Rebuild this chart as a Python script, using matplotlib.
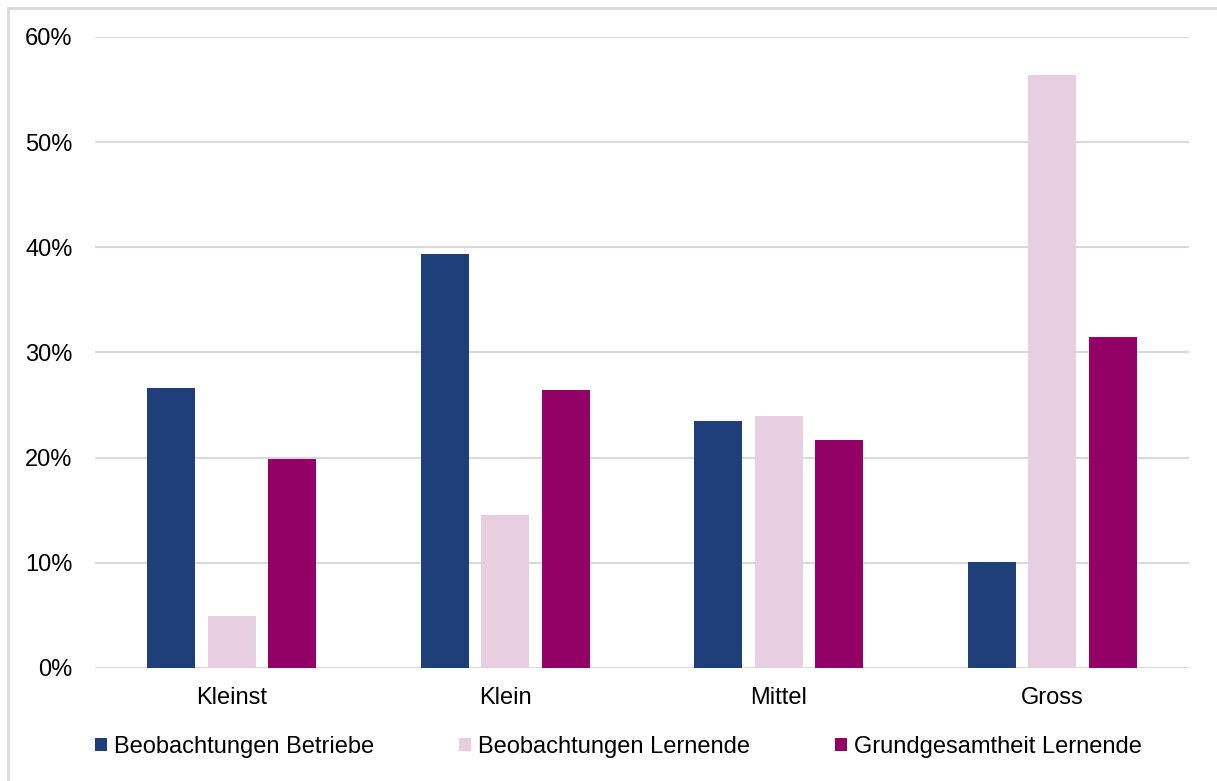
import numpy as np
import matplotlib.pyplot as plt
from matplotlib.patches import Rectangle

plt.rcParams['font.family'] = ['Liberation Sans', 'DejaVu Sans']

# data
categories = ['Kleinst', 'Klein', 'Mittel', 'Gross']
series_names = ['Beobachtungen Betriebe', 'Beobachtungen Lernende', 'Grundgesamtheit Lernende']
betriebe = [26.6, 39.4, 23.5, 10.1]
lernende = [4.9, 14.5, 24.0, 56.4]
grund = [19.9, 26.4, 21.7, 31.5]
colors = ['#1F3F7A', '#E8CEE1', '#930066']

fig = plt.figure(figsize=(12.17, 7.81), dpi=100)
ax = fig.add_axes([0.078, 0.1447, 0.899, 0.808])

x = np.arange(len(categories))
width = 0.175
offset = 0.221
handles = []
for i, vals in enumerate([betriebe, lernende, grund]):
    b = ax.bar(x + (i - 1) * offset, vals, width, color=colors[i], label=series_names[i], zorder=3)
    handles.append(b)

ax.set_xlim(-0.5, 3.5)
ax.set_ylim(0, 60)
ax.set_yticks(np.arange(0, 61, 10))
ax.set_yticklabels(['%d%%' % v for v in range(0, 61, 10)])
ax.set_xticks(x)
ax.set_xticklabels(categories)
ax.yaxis.grid(True, color='#D9D9D9', lw=1.5, zorder=0)
for s in ax.spines.values():
    s.set_visible(False)
ax.tick_params(axis='both', length=0, labelsize=17, colors='#000000')
ax.tick_params(axis='y', pad=16)
ax.tick_params(axis='x', pad=14)

leg = ax.legend(handles=handles, loc='center left', bbox_to_anchor=(0.0, -0.125), ncol=3,
                frameon=False, fontsize=17, handlelength=0.5, handleheight=0.5,
                handletextpad=0.3, columnspacing=3.6, borderaxespad=0, borderpad=0)

# outer frame (partially cropped in the reference)
fig.patches.append(Rectangle((0.0066, -0.05), 1.2, 0.0398 + 1.0, transform=fig.transFigure,
                             fill=False, edgecolor='#D9D9D9', lw=2))

plt.savefig('out.png', dpi=100)
